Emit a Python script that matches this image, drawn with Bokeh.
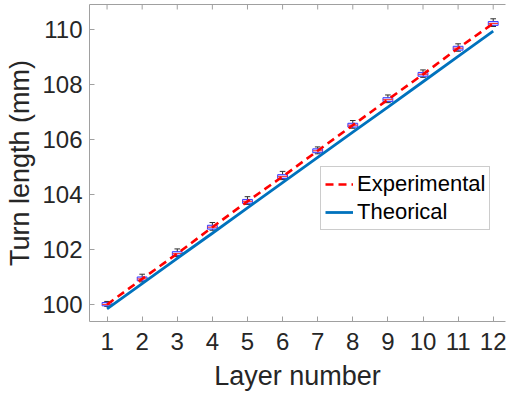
from bokeh.plotting import figure
from bokeh.models import Range1d, LinearAxis, FixedTicker, Legend, LegendItem
from bokeh.embed import file_html
from bokeh.resources import INLINE
import math

layers = [1, 2, 3, 4, 5, 6, 7, 8, 9, 10, 11, 12]
median = [100.00, 100.93, 101.85, 102.81, 103.75, 104.65, 105.59, 106.52, 107.45, 108.37, 109.32, 110.22]
q1 = [99.95, 100.86, 101.78, 102.74, 103.68, 104.58, 105.52, 106.45, 107.38, 108.30, 109.25, 110.15]
q3 = [100.07, 101.00, 101.92, 102.88, 103.82, 104.72, 105.66, 106.59, 107.52, 108.44, 109.39, 110.29]
whisker_hi = [100.11, 101.10, 102.02, 102.98, 103.92, 104.84, 105.73, 106.69, 107.62, 108.53, 109.48, 110.39]
whisker_lo = [99.93, 100.82, 101.74, 102.70, 103.64, 104.54, 105.48, 106.41, 107.34, 108.26, 109.21, 110.11]
theoretical = [99.84, 100.76, 101.68, 102.59, 103.51, 104.43, 105.35, 106.27, 107.18, 108.10, 109.02, 109.94]
y_ticks = [100, 102, 104, 106, 108, 110]

FONT = "Liberation Sans"
TXT = "#262626"
AX = "#a0a0a0"

Y_MIN, Y_MAX = 99.38, 110.91
p = figure(width=506, height=397, output_backend="svg", toolbar_location=None,
           x_range=Range1d(0.5, 12.35), y_range=Range1d(Y_MIN, Y_MAX),
           min_border_left=89, min_border_right=1, min_border_top=4, min_border_bottom=76)
p.background_fill_color = "white"
p.border_fill_color = "white"
p.outline_line_color = None
p.xgrid.visible = False
p.ygrid.visible = False

box_w = 0.28
cap_w = 0.16
# whiskers
p.segment(x0=layers, y0=q3, x1=layers, y1=whisker_hi, line_color="#303030", line_width=1)
p.segment(x0=layers, y0=q1, x1=layers, y1=whisker_lo, line_color="#303030", line_width=1)
p.segment(x0=[l - cap_w / 2 for l in layers], y0=whisker_hi, x1=[l + cap_w / 2 for l in layers], y1=whisker_hi,
          line_color="#303030", line_width=1)
p.segment(x0=[l - cap_w / 2 for l in layers], y0=whisker_lo, x1=[l + cap_w / 2 for l in layers], y1=whisker_lo,
          line_color="#303030", line_width=1)
# boxes
p.vbar(x=layers, width=box_w, bottom=q1, top=q3, fill_color="#b8b8ff", fill_alpha=0.6,
       line_color="#3a3aff", line_width=1)
p.segment(x0=[l - box_w / 2 for l in layers], y0=median, x1=[l + box_w / 2 for l in layers], y1=median,
          line_color="#ff3030", line_width=1)

r_exp = p.line(layers, median, line_color="#ff0000", line_width=2.6, line_dash="8 5")
r_th = p.line(layers, theoretical, line_color="#0072bd", line_width=2.8)

# inward tick marks on the top edge of the frame
p.scatter(x=layers, y=[Y_MAX] * len(layers), marker="dash", size=10, angle=math.pi / 2,
          line_color=AX, line_width=1)

for ax in (p.xaxis[0], p.yaxis[0]):
    ax.axis_line_color = AX
    ax.major_tick_line_color = AX
    ax.major_tick_in = 5
    ax.major_tick_out = 0
    ax.minor_tick_line_color = None
    ax.major_label_text_font = FONT
    ax.major_label_text_color = TXT
    ax.major_label_text_font_size = "24px"
    ax.axis_label_text_font = FONT
    ax.axis_label_text_color = TXT
    ax.axis_label_text_font_size = "27px"
    ax.axis_label_text_font_style = "normal"

p.xaxis[0].ticker = FixedTicker(ticks=layers)
p.yaxis[0].ticker = FixedTicker(ticks=y_ticks)
p.xaxis[0].axis_label = "Layer number"
p.yaxis[0].axis_label = "Turn length (mm)"
p.xaxis[0].major_label_standoff = 11
p.yaxis[0].major_label_standoff = 7
p.xaxis[0].axis_label_standoff = 8
p.yaxis[0].axis_label_standoff = 4

top = LinearAxis(ticker=FixedTicker(ticks=[]))
top.axis_line_color = AX
top.major_tick_line_color = None
top.minor_tick_line_color = None
top.major_label_standoff = 0
p.add_layout(top, "above")

legend = Legend(items=[LegendItem(label="Experimental", renderers=[r_exp]),
                       LegendItem(label="Theorical", renderers=[r_th])],
                location=(231, 91))
legend.label_text_font = FONT
legend.label_text_font_size = "22px"
legend.label_text_color = "#000000"
legend.border_line_color = "#9a9a9a"
legend.border_line_width = 1
legend.background_fill_color = "white"
legend.background_fill_alpha = 1
legend.padding = 4
legend.spacing = 2
legend.margin = 0
legend.label_height = 24
legend.glyph_height = 24
legend.glyph_width = 28
legend.label_standoff = 4
p.add_layout(legend, "center")

open("out.html", "w").write(file_html(p, INLINE))
